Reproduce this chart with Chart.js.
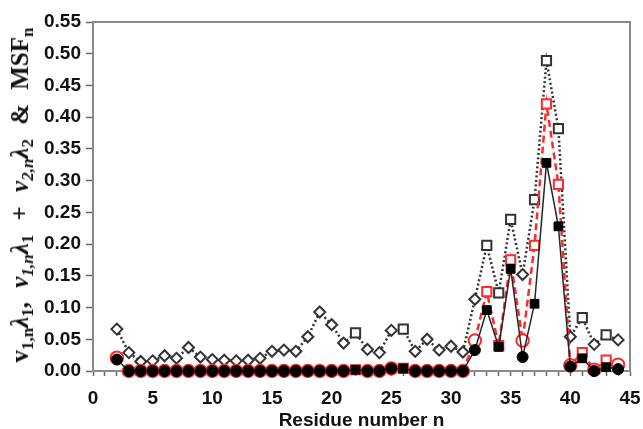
<!DOCTYPE html>
<html>
<head>
<meta charset="utf-8">
<script src="https://cdn.jsdelivr.net/npm/chart.js@4.4.1/dist/chart.umd.min.js"></script>
<style>
  html, body { margin: 0; padding: 0; background: #fff; overflow: hidden; }
  #wrap { position: relative; width: 643px; height: 429px; }
  #ytitle {
    position: absolute; left: 20px; top: 195px;
    transform: translate(-50%, -50%) rotate(-90deg);
    white-space: nowrap;
    font-family: "Liberation Serif", "DejaVu Serif", serif;
    font-weight: bold; font-size: 25px; color: #111;
    word-spacing: 8px;
  }
  #ytitle i { font-style: italic; }
  #ytitle sub { font-size: 0.68em; vertical-align: -0.3em; line-height: 0; }
</style>
</head>
<body>
<div id="wrap">
  <canvas id="chart"></canvas>
  <div id="ytitle">v<sub>1,n</sub><i>λ</i><sub>1</sub>, <i>ν</i><sub><i>1,n</i></sub><i>λ</i><sub>1</sub> + <i>ν</i><sub><i>2,n</i></sub><i>λ</i><sub>2</sub> &amp; MSF<sub>n</sub></div>
</div>
<script>
// residue numbers on the x axis
const residues = [2, 3, 4, 5, 6, 7, 8, 9, 10, 11, 12, 13, 14, 15, 16, 17, 18, 19, 20, 21, 22, 23,
  24, 25, 26, 27, 28, 29, 30, 31, 32, 33, 34, 35, 36, 37, 38, 39, 40, 41, 42, 43, 44];

// v1,n * lambda1 (black, solid)
const v1Lambda1 = [0.018, 0, 0, 0, 0, 0, 0, 0, 0, 0, 0, 0, 0, 0, 0, 0, 0, 0, 0, 0, 0.002, 0,
  0, 0.004, 0.004, 0, 0, 0, 0, 0, 0.033, 0.096, 0.038, 0.161, 0.022, 0.106, 0.328, 0.228, 0.007, 0.020, 0.000, 0.006, 0.003];

// v1,n*lambda1 + v2,n*lambda2 (red, dashed)
const v1v2Lambda = [0.021, 0, 0, 0, 0, 0, 0, 0, 0, 0, 0, 0, 0, 0, 0, 0, 0, 0, 0, 0, 0.002, 0,
  0, 0.004, 0.004, 0, 0, 0, 0, 0, 0.048, 0.125, 0.040, 0.175, 0.048, 0.198, 0.421, 0.294, 0.009, 0.029, 0.002, 0.017, 0.010];

// MSF_n (black, dotted)
const msf = [0.066, 0.029, 0.015, 0.016, 0.024, 0.020, 0.037, 0.022, 0.018, 0.017, 0.016, 0.017, 0.020, 0.031, 0.033, 0.031,
  0.054, 0.093, 0.073, 0.044, 0.060, 0.034, 0.029, 0.064, 0.066, 0.031, 0.050, 0.033, 0.039, 0.030,
  0.113, 0.198, 0.123, 0.239, 0.152, 0.270, 0.489, 0.382, 0.054, 0.084, 0.042, 0.057, 0.049];

// residues drawn with square markers
const squareResidues = [22, 26, 33, 34, 35, 37, 38, 39, 41, 43];

const xTicks = [0, 5, 10, 15, 20, 25, 30, 35, 40, 45];
const yTicks = [0, 0.05, 0.10, 0.15, 0.20, 0.25, 0.30, 0.35, 0.40, 0.45, 0.50, 0.55];

const isSq = residues.map(r => squareResidues.includes(r));
const pts = arr => residues.map((r, i) => ({ x: r, y: arr[i] }));

const frame = {
  id: 'frame',
  beforeDatasetsDraw(chart) {
    const { ctx, chartArea: a } = chart;
    ctx.save();
    ctx.strokeStyle = '#8a8a8a';
    ctx.lineWidth = 2;
    ctx.beginPath();
    ctx.moveTo(a.left, a.top);
    ctx.lineTo(a.right, a.top);
    ctx.lineTo(a.right, a.bottom);
    ctx.stroke();
    ctx.restore();
  }
};

const tickFont = { family: 'Liberation Sans, Arial, sans-serif', size: 19, weight: 'bold' };

new Chart(document.getElementById('chart'), {
  type: 'line',
  data: {
    datasets: [
      {
        data: pts(v1Lambda1),
        clip: false,
        borderColor: '#262626',
        borderWidth: 1.5,
        pointStyle: isSq.map(s => s ? 'rect' : 'circle'),
        pointRadius: isSq.map(s => s ? 6.2 : 5.5),
        pointBackgroundColor: '#000',
        pointBorderColor: '#000',
        pointBorderWidth: 1,
        tension: 0
      },
      {
        data: pts(v1v2Lambda),
        clip: false,
        borderColor: '#ff2a2a',
        borderWidth: 2.5,
        borderDash: [7, 4],
        pointStyle: isSq.map(s => s ? 'rect' : 'circle'),
        pointRadius: isSq.map(s => s ? 6.5 : 6.2),
        pointBackgroundColor: '#fff',
        pointBorderColor: '#ff2a2a',
        pointBorderWidth: 2,
        tension: 0
      },
      {
        data: pts(msf),
        clip: false,
        borderColor: '#333',
        borderWidth: 2.5,
        borderDash: [2, 2.5],
        pointStyle: isSq.map(s => s ? 'rect' : 'rectRot'),
        pointRadius: isSq.map(s => s ? 6.5 : 5.5),
        pointBackgroundColor: '#fff',
        pointBorderColor: '#333',
        pointBorderWidth: 2,
        tension: 0
      }
    ]
  },
  options: {
    responsive: true,
    maintainAspectRatio: false,
    animation: false,
    layout: { autoPadding: false, padding: { top: 22, right: 13, bottom: 0, left: 0 } },
    plugins: { legend: { display: false }, tooltip: { enabled: false } },
    scales: {
      x: {
        type: 'linear',
        min: 0, max: 45,
        afterFit: s => { s.height = 58; s.paddingRight = 0; },
        afterBuildTicks: s => {
          const t = [];
          for (let i = 0; i <= 45; i++) t.push({ value: i });
          s.ticks = t;
        },
        grid: { drawOnChartArea: false, tickLength: 5, tickColor: '#666', tickWidth: 1.5 },
        border: { color: '#8a8a8a', width: 2 },
        ticks: {
          autoSkip: false, maxRotation: 0, padding: 11,
          color: '#111', font: tickFont,
          callback: v => xTicks.includes(v) ? String(v) : ''
        },
        title: {
          display: true, text: 'Residue number n', color: '#111',
          font: tickFont, padding: { top: 0, bottom: -3 }
        }
      },
      y: {
        min: 0, max: 0.55,
        afterFit: s => { s.width = 93; },
        afterBuildTicks: s => { s.ticks = yTicks.map(v => ({ value: v })); },
        grid: { drawOnChartArea: false, tickLength: 7, tickColor: '#666', tickWidth: 1.5 },
        border: { color: '#8a8a8a', width: 2 },
        ticks: {
          padding: 5, color: '#111', font: tickFont,
          callback: v => v.toFixed(2)
        }
      }
    }
  },
  plugins: [frame]
});
</script>
</body>
</html>
